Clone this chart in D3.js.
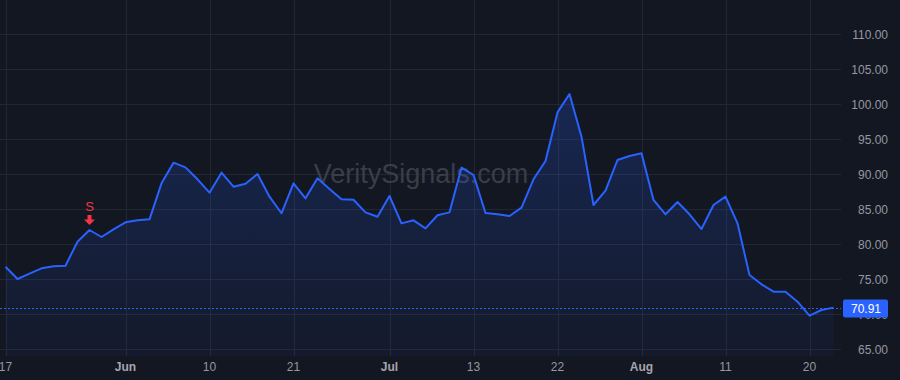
<!DOCTYPE html>
<html lang="en">
<head>
    <meta charset="UTF-8">
    <title>Price chart</title>
    <script src="https://cdnjs.cloudflare.com/ajax/libs/d3/7.8.5/d3.min.js"></script>
    <style>
        body {
            margin: 0;
            background: #131722;
        }
        svg text {
            font-family: "Liberation Sans", Arial, sans-serif;
        }
    </style>
</head>
<body>
    <svg id="chart" width="900" height="380"></svg>

    <script>
        // trading days, May 17 -> Aug 24
        const dates = [
            "2021-05-17", "2021-05-18", "2021-05-19", "2021-05-20", "2021-05-21",
            "2021-05-24", "2021-05-25", "2021-05-26", "2021-05-27", "2021-05-28",
            "2021-06-01", "2021-06-02", "2021-06-03", "2021-06-04",
            "2021-06-07", "2021-06-08", "2021-06-09", "2021-06-10", "2021-06-11",
            "2021-06-14", "2021-06-15", "2021-06-16", "2021-06-17", "2021-06-18",
            "2021-06-21", "2021-06-22", "2021-06-23", "2021-06-24", "2021-06-25",
            "2021-06-28", "2021-06-29", "2021-06-30", "2021-07-01", "2021-07-02",
            "2021-07-06", "2021-07-07", "2021-07-08", "2021-07-09",
            "2021-07-12", "2021-07-13", "2021-07-14", "2021-07-15", "2021-07-16",
            "2021-07-19", "2021-07-20", "2021-07-21", "2021-07-22", "2021-07-23",
            "2021-07-26", "2021-07-27", "2021-07-28", "2021-07-29", "2021-07-30",
            "2021-08-02", "2021-08-03", "2021-08-04", "2021-08-05", "2021-08-06",
            "2021-08-09", "2021-08-10", "2021-08-11", "2021-08-12", "2021-08-13",
            "2021-08-16", "2021-08-17", "2021-08-18", "2021-08-19", "2021-08-20",
            "2021-08-23", "2021-08-24"
        ];

        const closes = [
            76.76, 75.00, 75.76, 76.52, 76.81, 76.90, 80.33, 82.00, 81.00, 82.10,
            83.10, 83.40, 83.52, 88.67, 91.62, 90.95, 89.24, 87.33, 90.19, 88.19,
            88.62, 90.00, 86.76, 84.39, 88.67, 86.52, 89.38, 87.86, 86.38, 86.33,
            84.52, 83.90, 86.86, 82.95, 83.38, 82.24, 84.10, 84.52, 90.90, 89.86,
            84.43, 84.24, 84.00, 85.19, 89.24, 91.86, 98.80, 101.43, 95.33, 85.57,
            87.62, 92.00, 92.57, 92.95, 86.29, 84.24, 86.00, 84.24, 82.14, 85.57,
            86.76, 82.95, 75.57, 74.24, 73.19, 73.19, 71.76, 69.76, 70.57, 70.91
        ];

        // x-axis labels (month names are bold)
        const xTickDates = ["2021-05-17", "2021-06-01", "2021-06-10", "2021-06-21", "2021-07-01",
                            "2021-07-13", "2021-07-22", "2021-08-02", "2021-08-11", "2021-08-20"];
        const xTickLabels = ["17", "Jun", "10", "21", "Jul", "13", "22", "Aug", "11", "20"];
        const yTicks = [65, 70, 75, 80, 85, 90, 95, 100, 105, 110];

        const lastPrice = 70.91;
        const signals = [{ date: "2021-05-26", label: "S" }];
        const watermark = "VeritySignals.com";

        const width = 900, height = 380;
        const plotRight = 841, plotBottom = 356;

        const svg = d3.select("#chart");
        svg.append("rect").attr("width", width).attr("height", height).attr("fill", "#131722");

        const x = d3.scalePoint()
            .domain(dates)
            .range([5.5, 5.5 + 12 * (dates.length - 1)]);

        const y = d3.scaleLinear()
            .domain([65, 110])
            .range([349, 34]);

        // grid
        const grid = svg.append("g");
        grid.selectAll(".hgrid")
            .data(yTicks)
            .enter()
            .append("line")
            .attr("x1", 0).attr("x2", plotRight)
            .attr("y1", d => Math.round(y(d)) + 0.5)
            .attr("y2", d => Math.round(y(d)) + 0.5)
            .attr("stroke", "#232733");
        grid.selectAll(".vgrid")
            .data(xTickDates)
            .enter()
            .append("line")
            .attr("x1", d => Math.round(x(d)) + 0.5)
            .attr("x2", d => Math.round(x(d)) + 0.5)
            .attr("y1", 0).attr("y2", plotBottom)
            .attr("stroke", "#232733");

        // watermark
        svg.append("text")
            .attr("x", 421).attr("y", 183)
            .attr("text-anchor", "middle")
            .attr("font-size", 27)
            .attr("fill", "#3a3e49")
            .text(watermark);

        // area gradient
        const defs = svg.append("defs");
        const grad = defs.append("linearGradient")
            .attr("id", "areaGrad")
            .attr("gradientUnits", "userSpaceOnUse")
            .attr("x1", 0).attr("x2", 0)
            .attr("y1", y(d3.max(closes))).attr("y2", plotBottom);
        grad.append("stop").attr("offset", 0).attr("stop-color", "#2962ff").attr("stop-opacity", 0.22);
        grad.append("stop").attr("offset", 1).attr("stop-color", "#2962ff").attr("stop-opacity", 0.04);

        const series = dates.map((d, i) => ({ date: d, value: closes[i] }));

        const area = d3.area()
            .x(d => x(d.date))
            .y0(plotBottom)
            .y1(d => y(d.value));

        const line = d3.line()
            .x(d => x(d.date))
            .y(d => y(d.value));

        svg.append("path")
            .datum(series)
            .attr("d", area)
            .attr("fill", "url(#areaGrad)");

        // last price dotted line
        const priceY = Math.round(y(lastPrice)) + 0.5;
        svg.append("line")
            .attr("x1", 0).attr("x2", plotRight)
            .attr("y1", priceY).attr("y2", priceY)
            .attr("stroke", "#2962ff")
            .attr("stroke-width", 1)
            .attr("stroke-dasharray", "2,2");

        svg.append("path")
            .datum(series)
            .attr("d", line)
            .attr("fill", "none")
            .attr("stroke", "#2962ff")
            .attr("stroke-width", 2)
            .attr("stroke-linejoin", "round");

        // signal markers
        signals.forEach(s => {
            const v = closes[dates.indexOf(s.date)];
            const sx = x(s.date), sy = y(v);
            svg.append("path")
                .attr("d", `M${sx - 2},${sy - 15} h4 v4.5 h3.5 l-5.5,5.5 l-5.5,-5.5 h3.5 z`)
                .attr("fill", "#f23645");
            svg.append("text")
                .attr("x", sx).attr("y", sy - 19)
                .attr("text-anchor", "middle")
                .attr("font-size", 13)
                .attr("fill", "#f23645")
                .text(s.label);
        });

        // y axis labels
        svg.append("g").selectAll("text")
            .data(yTicks)
            .enter()
            .append("text")
            .attr("x", 888)
            .attr("y", d => y(d) + 4.5)
            .attr("text-anchor", "end")
            .attr("font-size", 12)
            .attr("fill", "#9598a1")
            .text(d => d.toFixed(2));

        // x axis labels
        svg.append("g").selectAll("text")
            .data(xTickDates)
            .enter()
            .append("text")
            .attr("x", d => x(d))
            .attr("y", 371)
            .attr("text-anchor", "middle")
            .attr("font-size", 12)
            .attr("font-weight", (d, i) => isNaN(+xTickLabels[i]) ? "bold" : "normal")
            .attr("fill", (d, i) => isNaN(+xTickLabels[i]) ? "#a3a6af" : "#9598a1")
            .text((d, i) => xTickLabels[i]);

        // last price tag
        svg.append("rect")
            .attr("x", 843).attr("y", priceY - 9)
            .attr("width", 45).attr("height", 18)
            .attr("rx", 2)
            .attr("fill", "#2962ff");
        svg.append("text")
            .attr("x", 866).attr("y", priceY + 4.5)
            .attr("text-anchor", "middle")
            .attr("font-size", 12)
            .attr("fill", "#ffffff")
            .text(lastPrice.toFixed(2));
    </script>
</body>
</html>
